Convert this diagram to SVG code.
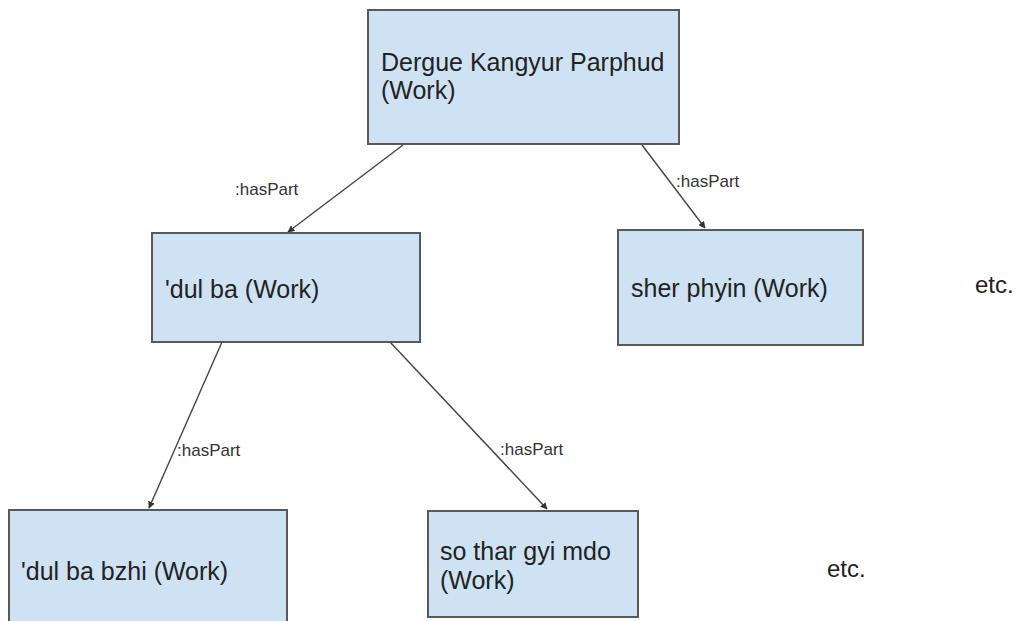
<svg xmlns="http://www.w3.org/2000/svg" width="1017" height="621" viewBox="0 0 1017 621">
  <style>
    .box { fill: #cfe2f3; stroke: #595959; stroke-width: 2; }
    .t { font-family: "Liberation Sans", Arial, sans-serif; font-size: 25px; fill: #222; }
    .lbl { font-family: "Liberation Sans", Arial, sans-serif; font-size: 17px; fill: #333; }
    .etc { font-family: "Liberation Sans", Arial, sans-serif; font-size: 24px; fill: #222; }
    .edge { stroke: #444; stroke-width: 1.4; fill: none; marker-end: url(#arr); }
  </style>
  <defs>
    <marker id="arr" viewBox="0 0 10 10" refX="9" refY="5" markerWidth="7" markerHeight="7" markerUnits="userSpaceOnUse" orient="auto">
      <path d="M0,0 L10,5 L0,10 z" fill="#333"/>
    </marker>
  </defs>
  <rect width="1017" height="621" fill="#ffffff"/>

  <g id="connectors">
    <line class="edge" x1="403" y1="145" x2="288" y2="232"/>
    <line class="edge" x1="642" y1="145" x2="705" y2="228"/>
    <line class="edge" x1="222" y1="342" x2="149" y2="508"/>
    <line class="edge" x1="390" y1="342" x2="547" y2="509"/>
    <text class="lbl" x="235" y="195">:hasPart</text>
    <text class="lbl" x="676" y="187">:hasPart</text>
    <text class="lbl" x="177" y="456">:hasPart</text>
    <text class="lbl" x="500" y="455">:hasPart</text>
  </g>

  <g id="node-dergue">
    <rect class="box" x="368" y="10" width="311" height="134"/>
    <text class="t" x="381" y="71">Dergue Kangyur Parphud</text>
    <text class="t" x="381" y="99">(Work)</text>
  </g>

  <g id="node-dulba">
    <rect class="box" x="152" y="233" width="268" height="109"/>
    <text class="t" x="165" y="298">'dul ba (Work)</text>
  </g>

  <g id="node-sherphyin">
    <rect class="box" x="618" y="230" width="245" height="115"/>
    <text class="t" x="631" y="297">sher phyin (Work)</text>
  </g>

  <g id="node-dulbabzhi">
    <rect class="box" x="9" y="510" width="278" height="120"/>
    <text class="t" x="21" y="580">'dul ba bzhi (Work)</text>
  </g>

  <g id="node-sothar">
    <rect class="box" x="428" y="511" width="210" height="106"/>
    <text class="t" x="440" y="560">so thar gyi mdo</text>
    <text class="t" x="440" y="589">(Work)</text>
  </g>

  <text class="etc" x="975" y="293">etc.</text>
  <text class="etc" x="827" y="577">etc.</text>
</svg>
